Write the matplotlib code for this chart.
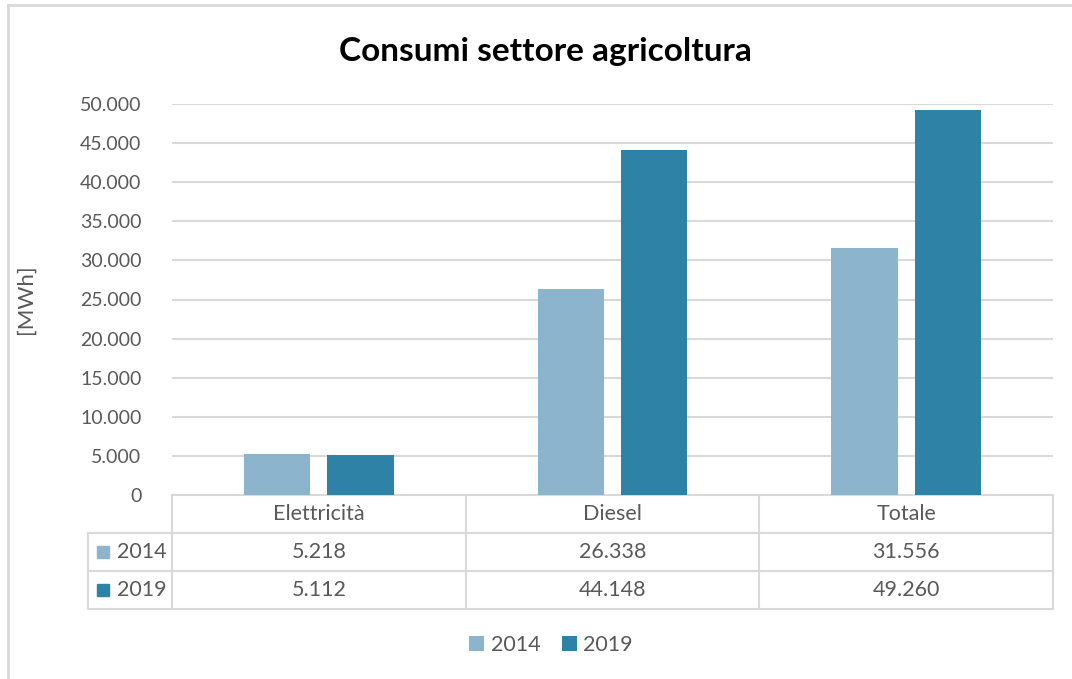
import matplotlib.pyplot as plt
from matplotlib.patches import Rectangle
from matplotlib.ticker import FuncFormatter
from matplotlib.lines import Line2D

plt.rcParams['font.family'] = ['Lato', 'DejaVu Sans']

categories = ['Elettricità', 'Diesel', 'Totale']
years = ['2014', '2019']
values_2014 = [5218, 26338, 31556]
values_2019 = [5112, 44148, 49260]
colors = ['#8cb4cd', '#2e82a5']
grey = '#d9d9d9'
txt = '#595959'


def fmt(v, pos=None):
    return '{:,}'.format(int(v)).replace(',', '.')


fig = plt.figure(figsize=(10.72, 6.79), dpi=100)
W, H = 1072, 679
ax = fig.add_axes([172 / W, 1 - 495 / H, (1053 - 172) / W, (495 - 104) / H])

x = list(range(len(categories)))
w = 0.225
off = 0.142
ax.bar([i - off for i in x], values_2014, w, color=colors[0], label=years[0], zorder=3)
ax.bar([i + off for i in x], values_2019, w, color=colors[1], label=years[1], zorder=3)

ax.set_xlim(-0.5, 2.5)
ax.set_ylim(0, 50000)
ax.set_yticks(range(0, 50001, 5000))
ax.yaxis.set_major_formatter(FuncFormatter(fmt))
ax.tick_params(axis='y', length=0, pad=22, labelsize=14, labelcolor=txt)
ax.set_xticks([])
ax.grid(axis='y', color=grey, lw=1.5, zorder=0)
for s in ax.spines.values():
    s.set_visible(False)
ax.set_ylabel('[MWh]', fontsize=16, color=txt)
ax.yaxis.set_label_coords(-136 / 881, 0.5)

# data table under the chart
tr = ax.get_xaxis_transform()
rh = 38 / 391
left = -0.5 - 84 / 294
lkw = dict(color=grey, lw=1.5, transform=tr, clip_on=False)
# horizontal lines
ax.add_line(Line2D([-0.5, 2.5], [0, 0], **lkw))
for r in (1, 2, 3):
    ax.add_line(Line2D([left, 2.5], [-r * rh, -r * rh], **lkw))
# vertical lines
ax.add_line(Line2D([left, left], [-rh, -3 * rh], **lkw))
for xv in (-0.5, 0.5, 1.5, 2.5):
    ax.add_line(Line2D([xv, xv], [0, -3 * rh], **lkw))

for i, c in enumerate(categories):
    ax.text(i, -0.5 * rh, c, ha='center', va='center', fontsize=15.5, color=txt, transform=tr)
for r, (yr, vals) in enumerate(zip(years, [values_2014, values_2019])):
    yc = -(r + 1.5) * rh
    ax.add_patch(Rectangle((left + 9 / 294, yc - 6 / 391), 12 / 294, 12 / 391,
                           color=colors[r], transform=tr, clip_on=False))
    ax.text(left + 29 / 294, yc, yr, ha='left', va='center', fontsize=15.5, color=txt, transform=tr)
    for i, v in enumerate(vals):
        ax.text(i, yc, fmt(v), ha='center', va='center', fontsize=15.5, color=txt, transform=tr)

fig.text(545 / W, 1 - 51 / H, 'Consumi settore agricoltura', ha='center', va='center',
         fontsize=24, fontweight='bold', color='black')

fig.legend(loc='center', bbox_to_anchor=(551 / W, 1 - 645 / H), ncol=2, frameon=False,
           fontsize=15.5, labelcolor=txt, handlelength=0.7, handleheight=0.7,
           handletextpad=0.3, columnspacing=1.0)

# chart frame (partly visible)
fig.add_artist(Line2D([8 / W, 8 / W], [0, 1 - 5 / H], color=grey, lw=2, transform=fig.transFigure))
fig.add_artist(Line2D([8 / W, 1], [1 - 5 / H, 1 - 5 / H], color=grey, lw=2, transform=fig.transFigure))

fig.savefig('out.png', dpi=100)
